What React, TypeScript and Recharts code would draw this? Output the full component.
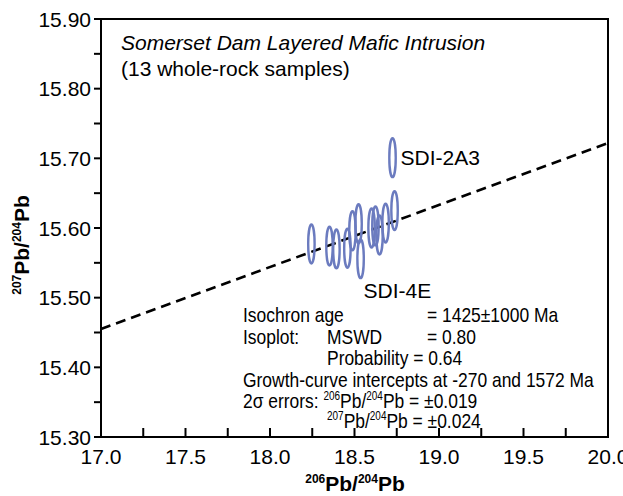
import React from 'react';
import {
  ScatterChart,
  Scatter,
  XAxis,
  YAxis,
  ReferenceLine,
  ReferenceArea
} from 'recharts';

// sample coordinates (206Pb/204Pb, 207Pb/204Pb)
const sampleX = [18.245, 18.352, 18.393, 18.458, 18.488, 18.524, 18.536, 18.601, 18.624, 18.648, 18.684, 18.737, 18.725];
const sampleY = [15.577, 15.574, 15.570, 15.571, 15.596, 15.606, 15.556, 15.600, 15.603, 15.590, 15.607, 15.625, 15.701];
const sampleLabels = ['', '', '', '', '', '', 'SDI-4E', '', '', '', '', '', 'SDI-2A3'];
// half-axes of the error ellipses
const errX = 0.019;
const errY = 0.028;

// isochron end points
const isochronX = [17.0, 20.0];
const isochronY = [15.455, 15.722];

const xTicks = [17.0, 17.25, 17.5, 17.75, 18.0, 18.25, 18.5, 18.75, 19.0, 19.25, 19.5, 19.75, 20.0];
const yTicks = [15.3, 15.35, 15.4, 15.45, 15.5, 15.55, 15.6, 15.65, 15.7, 15.75, 15.8, 15.85, 15.9];

const X_DOMAIN: [number, number] = [17, 20];
const Y_DOMAIN: [number, number] = [15.3, 15.9];

const W = 623;
const H = 496;
const M = { top: 19, right: 15, bottom: 19, left: 21 };
const Y_AXIS_W = 80;
const X_AXIS_H = 40;
const PLOT_W = W - M.left - M.right - Y_AXIS_W;
const PLOT_H = H - M.top - M.bottom - X_AXIS_H;

const data = sampleX.map((x, i) => ({ x, y: sampleY[i], label: sampleLabels[i] }));

const SANS = "'Liberation Sans', Arial, Helvetica, sans-serif";
const ELLIPSE = '#6b7bbf';

const isMajor = (v: number, step: number) => Math.abs(v / step - Math.round(v / step)) < 1e-6;

const XTick = (props: any) => {
  const { x, y, payload } = props;
  const v = payload.value as number;
  return (
    <g>
      <line x1={x} x2={x} y1={y - 9} y2={y + 1} stroke="#000" strokeWidth={2} />
      {isMajor(v, 0.5) && (
        <text x={x} y={y + 27} textAnchor="middle" fontSize={21} fontFamily={SANS} fill="#000">
          {v.toFixed(1)}
        </text>
      )}
    </g>
  );
};

const YTick = (props: any) => {
  const { x, y, payload } = props;
  const v = payload.value as number;
  return (
    <g>
      <line x1={x - 7} x2={x + 1} y1={y} y2={y} stroke="#000" strokeWidth={2} />
      {isMajor(v, 0.1) && (
        <text x={x - 10} y={y} dy="0.36em" textAnchor="end" fontSize={21} fontFamily={SANS} fill="#000">
          {v.toFixed(2)}
        </text>
      )}
    </g>
  );
};

const ErrorEllipse = (props: any) => {
  const { cx, cy, payload } = props;
  const rx = (errX / (X_DOMAIN[1] - X_DOMAIN[0])) * PLOT_W;
  const ry = (errY / (Y_DOMAIN[1] - Y_DOMAIN[0])) * PLOT_H;
  return (
    <g>
      <ellipse cx={cx} cy={cy} rx={rx} ry={ry} fill="none" stroke={ELLIPSE} strokeWidth={2.4} />
      {payload.label === 'SDI-2A3' && (
        <text x={cx + 8} y={cy} dy="0.36em" fontSize={21} fontFamily={SANS} fill="#000">
          {payload.label}
        </text>
      )}
      {payload.label === 'SDI-4E' && (
        <text x={cx + 3} y={cy + 32} dy="0.36em" fontSize={21} fontFamily={SANS} fill="#000">
          {payload.label}
        </text>
      )}
    </g>
  );
};

const Sup = ({ children }: { children: React.ReactNode }) => (
  <span style={{ fontSize: 12, position: 'relative', top: -8, lineHeight: 0 }}>{children}</span>
);

const noteRow = (top: number): React.CSSProperties => ({
  position: 'absolute',
  top,
  left: 0,
  height: 21,
  lineHeight: '21px',
  whiteSpace: 'nowrap'
});

// the statistics block uses a condensed face in the original
const at = (left: number): React.CSSProperties => ({
  position: 'absolute',
  left,
  top: 0,
  display: 'inline-block',
  transform: 'scaleX(0.83)',
  transformOrigin: '0 0'
});

const App: React.FC = () => {
  return (
    <div style={{ position: 'absolute', left: 0, top: 0, width: W, height: H, background: '#fff' }}>
      <ScatterChart width={W} height={H} margin={M}>
        <XAxis
          type="number"
          dataKey="x"
          domain={X_DOMAIN}
          ticks={xTicks}
          interval={0}
          height={X_AXIS_H}
          tickSize={0}
          tickMargin={0}
          tickLine={false}
          axisLine={false}
          tick={<XTick />}
          allowDataOverflow
        />
        <YAxis
          type="number"
          dataKey="y"
          domain={Y_DOMAIN}
          ticks={yTicks}
          interval={0}
          width={Y_AXIS_W}
          tickSize={0}
          tickMargin={0}
          tickLine={false}
          axisLine={false}
          tick={<YTick />}
          allowDataOverflow
        />
        <ReferenceArea
          x1={X_DOMAIN[0]}
          x2={X_DOMAIN[1]}
          y1={Y_DOMAIN[0]}
          y2={Y_DOMAIN[1]}
          fill="none"
          fillOpacity={0}
          stroke="#000"
          strokeWidth={2}
        />
        <ReferenceLine
          segment={[
            { x: isochronX[0], y: isochronY[0] },
            { x: isochronX[1], y: isochronY[1] }
          ]}
          stroke="#000"
          strokeWidth={2.6}
          strokeDasharray="10 6"
        />
        <Scatter data={data} shape={<ErrorEllipse />} isAnimationActive={false} />
      </ScatterChart>

      {/* title */}
      <div style={{ position: 'absolute', left: 121, top: 30, fontFamily: SANS, fontSize: 21, lineHeight: '26px' }}>
        <div style={{ fontStyle: 'italic' }}>Somerset Dam Layered Mafic Intrusion</div>
        <div>(13 whole-rock samples)</div>
      </div>

      {/* isochron statistics */}
      <div style={{ position: 'absolute', left: 243, top: 304, fontFamily: SANS, fontSize: 21, color: '#000' }}>
        <div style={noteRow(0)}>
          <span style={at(0)}>Isochron age</span>
          <span style={at(184)}>= 1425±1000 Ma</span>
        </div>
        <div style={noteRow(22)}>
          <span style={at(0)}>Isoplot:</span>
          <span style={at(84)}>MSWD</span>
          <span style={at(184)}>= 0.80</span>
        </div>
        <div style={noteRow(43)}>
          <span style={at(84)}>Probability = 0.64</span>
        </div>
        <div style={noteRow(65)}>
          <span style={at(0)}>Growth-curve intercepts at -270 and 1572 Ma</span>
        </div>
        <div style={noteRow(86)}>
          <span style={at(0)}>
            2σ errors: <Sup>206</Sup>Pb/<Sup>204</Sup>Pb = ±0.019
          </span>
        </div>
        <div style={noteRow(106)}>
          <span style={at(84)}>
            <Sup>207</Sup>Pb/<Sup>204</Sup>Pb = ±0.024
          </span>
        </div>
      </div>

      {/* axis titles */}
      <div
        style={{
          position: 'absolute',
          left: 355,
          top: 484,
          transform: 'translate(-50%, -50%)',
          fontFamily: SANS,
          fontWeight: 'bold',
          fontSize: 21,
          whiteSpace: 'nowrap'
        }}
      >
        <Sup>206</Sup>Pb/<Sup>204</Sup>Pb
      </div>
      <div
        style={{
          position: 'absolute',
          left: 22,
          top: 245,
          transform: 'translate(-50%, -50%) rotate(-90deg)',
          fontFamily: SANS,
          fontWeight: 'bold',
          fontSize: 21,
          whiteSpace: 'nowrap'
        }}
      >
        <Sup>207</Sup>Pb/<Sup>204</Sup>Pb
      </div>
    </div>
  );
};

export default App;
